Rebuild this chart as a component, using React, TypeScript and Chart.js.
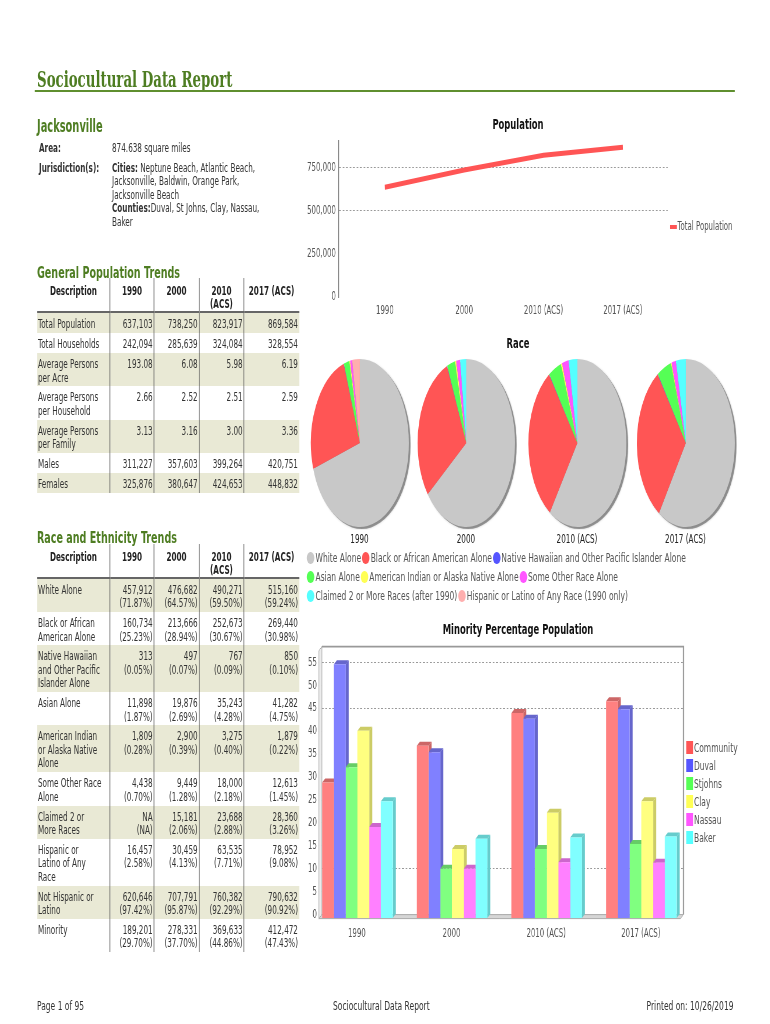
import React, { useEffect, useRef } from 'react';
import { Chart, registerables } from 'chart.js';

Chart.register(...registerables);
Chart.defaults.font.family = "'DejaVu Sans', sans-serif";

// horizontal squeeze of the whole page (the reference is horizontally compressed)
const SX = 0.58;
const X = (v: number) => v / SX;

// ---------------- data ----------------
const years = ['1990', '2000', '2010 (ACS)', '2017 (ACS)'];
const totalPopulation = [637103, 738250, 823917, 869584];
const populationTicks = [0, 250000, 500000, 750000];

const raceLegendLabels = [
  'White Alone',
  'Black or African American Alone',
  'Native Hawaiian and Other Pacific Islander Alone',
  'Asian Alone',
  'American Indian or Alaska Native Alone',
  'Some Other Race Alone',
  'Claimed 2 or More Races (after 1990)',
  'Hispanic or Latino of Any Race (1990 only)',
];
const raceColors = ['#c8c8c8', '#ff5555', '#5555ff', '#55ff55', '#ffff55', '#ff55ff', '#55ffff', '#ffafaf'];
const race1990 = [71.87, 25.23, 0.05, 1.87, 0.28, 0.7, 0, 2.58];
const race2000 = [64.57, 28.94, 0.07, 2.69, 0.39, 1.28, 2.06, 0];
const race2010 = [59.5, 30.67, 0.09, 4.28, 0.4, 2.18, 2.88, 0];
const race2017 = [59.24, 30.98, 0.1, 4.75, 0.22, 1.45, 3.26, 0];
const raceByYear = [race1990, race2000, race2010, race2017];

const minorityAreas = ['Community', 'Duval', 'Stjohns', 'Clay', 'Nassau', 'Baker'];
const community = [29.7, 37.7, 44.86, 47.43];
const duval = [55.5, 36.3, 43.6, 45.7];
const stjohns = [33.0, 10.9, 15.2, 16.3];
const clay = [41.0, 15.2, 23.1, 25.6];
const nassau = [20.0, 10.9, 12.3, 12.2];
const baker = [25.6, 17.4, 17.7, 17.9];
const minoritySeries = [community, duval, stjohns, clay, nassau, baker];
const areaColors = ['#ff5555', '#5555ff', '#55ff55', '#ffff55', '#ff55ff', '#55ffff'];
const areaFront = ['#ff8080', '#8080ff', '#80ff80', '#ffff80', '#ff80ff', '#80ffff'];
const areaDark = ['#cc6666', '#6666cc', '#66cc66', '#cccc66', '#cc66cc', '#66cccc'];

const tableHeader = ['Description', '1990', '2000', '2010\n(ACS)', '2017 (ACS)'];

const genDesc = ['Total Population', 'Total Households', 'Average Persons\nper Acre', 'Average Persons\nper Household', 'Average Persons\nper Family', 'Males', 'Females'];
const gen1990 = ['637,103', '242,094', '193.08', '2.66', '3.13', '311,227', '325,876'];
const gen2000 = ['738,250', '285,639', '6.08', '2.52', '3.16', '357,603', '380,647'];
const gen2010 = ['823,917', '324,084', '5.98', '2.51', '3.00', '399,264', '424,653'];
const gen2017 = ['869,584', '328,554', '6.19', '2.59', '3.36', '420,751', '448,832'];

const raceDesc = ['White Alone', 'Black or African\nAmerican Alone', 'Native Hawaiian\nand Other Pacific\nIslander Alone', 'Asian Alone', 'American Indian\nor Alaska Native\nAlone', 'Some Other Race\nAlone', 'Claimed 2 or\nMore Races', 'Hispanic or\nLatino of Any\nRace', 'Not Hispanic or\nLatino', 'Minority'];
const cnt1990 = ['457,912', '160,734', '313', '11,898', '1,809', '4,438', 'NA', '16,457', '620,646', '189,201'];
const pct1990 = ['71.87%', '25.23%', '0.05%', '1.87%', '0.28%', '0.70%', 'NA', '2.58%', '97.42%', '29.70%'];
const cnt2000 = ['476,682', '213,666', '497', '19,876', '2,900', '9,449', '15,181', '30,459', '707,791', '278,331'];
const pct2000 = ['64.57%', '28.94%', '0.07%', '2.69%', '0.39%', '1.28%', '2.06%', '4.13%', '95.87%', '37.70%'];
const cnt2010 = ['490,271', '252,673', '767', '35,243', '3,275', '18,000', '23,688', '63,535', '760,382', '369,633'];
const pct2010 = ['59.50%', '30.67%', '0.09%', '4.28%', '0.40%', '2.18%', '2.88%', '7.71%', '92.29%', '44.86%'];
const cnt2017 = ['515,160', '269,440', '850', '41,282', '1,879', '12,613', '28,360', '78,952', '790,632', '412,472'];
const pct2017 = ['59.24%', '30.98%', '0.10%', '4.75%', '0.22%', '1.45%', '3.26%', '9.08%', '90.92%', '47.43%'];

// ---------------- helpers ----------------
const GREEN = '#4e7d22';

function ChartBox({ make, style }: { make: () => any; style: any }) {
  const ref = useRef<HTMLCanvasElement>(null);
  useEffect(() => {
    const c = new Chart(ref.current as HTMLCanvasElement, make());
    return () => c.destroy();
  }, []);
  return (
    <div style={{ position: 'absolute', ...style }}>
      <canvas ref={ref} />
    </div>
  );
}

const lineConfig = () => ({
  type: 'line',
  data: {
    datasets: [
      {
        label: 'Total Population',
        data: years.map((_, i) => ({ x: i, y: totalPopulation[i] })),
        borderColor: '#ff5555',
        borderWidth: 5,
        pointRadius: 0,
        tension: 0,
      },
    ],
  },
  options: {
    animation: false,
    responsive: true,
    maintainAspectRatio: false,
    layout: { padding: { top: 10, right: X(12), bottom: 0, left: 0 } },
    plugins: { legend: { display: false }, tooltip: { enabled: false } },
    scales: {
      x: {
        type: 'linear',
        min: -0.58,
        max: 3.567,
        offset: false,
        grid: { display: false, drawTicks: false },
        border: { display: false },
        afterBuildTicks: (s: any) => {
          s.ticks = years.map((_, i) => ({ value: i }));
        },
        ticks: { callback: (v: any) => years[v], color: '#555', font: { size: 12 }, padding: 7, maxRotation: 0, autoSkip: false },
        afterFit: (s: any) => {
          s.height = 21;
        },
      },
      y: {
        min: 0,
        max: 910000,
        afterBuildTicks: (s: any) => {
          s.ticks = populationTicks.map((v) => ({ value: v }));
        },
        ticks: {
          callback: (v: any) => Number(v).toLocaleString('en-US'),
          color: '#555',
          font: { size: 12 },
          padding: X(3),
        },
        grid: {
          drawTicks: false,
          color: (c: any) => (c.tick && (c.tick.value === 500000 || c.tick.value === 750000) ? '#999' : 'rgba(0,0,0,0)'),
        },
        border: { display: true, color: '#888', width: X(1), dash: [3, 3] },
        afterFit: (s: any) => {
          s.width = X(39);
        },
      },
    },
  },
});

const pieShadow = {
  id: 'pieShadow',
  beforeDatasetsDraw(chart: any) {
    const el = chart.getDatasetMeta(0).data[0];
    if (!el) return;
    const { ctx } = chart;
    ctx.save();
    ctx.fillStyle = 'rgba(80,80,80,0.55)';
    ctx.shadowColor = 'rgba(0,0,0,0.35)';
    ctx.shadowBlur = 3;
    ctx.beginPath();
    ctx.arc(el.x + 3, el.y + 2, el.outerRadius, 0, Math.PI * 2);
    ctx.fill();
    ctx.restore();
  },
};

const pieConfig = (values: number[]) => () => ({
  type: 'pie',
  data: {
    labels: raceLegendLabels,
    datasets: [{ data: values, backgroundColor: raceColors, borderWidth: 0 }],
  },
  options: {
    animation: false,
    responsive: true,
    maintainAspectRatio: false,
    layout: { padding: 3 },
    plugins: { legend: { display: false }, tooltip: { enabled: false } },
  },
  plugins: [pieShadow],
});

const DX = X(3);
const DY = 4;
const bar3d = {
  id: 'bar3d',
  beforeDatasetsDraw(chart: any) {
    const { ctx, chartArea: a } = chart;
    ctx.save();
    ctx.lineWidth = 1;
    ctx.strokeStyle = '#aaa';
    ctx.fillStyle = '#ececec';
    ctx.beginPath();
    ctx.moveTo(a.left - DX, a.top + DY);
    ctx.lineTo(a.left, a.top);
    ctx.lineTo(a.left, a.bottom);
    ctx.lineTo(a.left - DX, a.bottom + DY);
    ctx.closePath();
    ctx.fill();
    ctx.stroke();
    ctx.fillStyle = '#d6d6d6';
    ctx.beginPath();
    ctx.moveTo(a.left - DX, a.bottom + DY);
    ctx.lineTo(a.left, a.bottom);
    ctx.lineTo(a.right, a.bottom);
    ctx.lineTo(a.right - DX, a.bottom + DY);
    ctx.closePath();
    ctx.fill();
    ctx.stroke();
    ctx.strokeStyle = '#999';
    ctx.lineWidth = X(1);
    ctx.beginPath();
    ctx.moveTo(a.left, a.top);
    ctx.lineTo(a.right, a.top);
    ctx.lineTo(a.right, a.bottom);
    ctx.stroke();
    ctx.restore();

    ctx.save();
    ctx.translate(-DX, DY);
    chart.data.datasets.forEach((_: any, k: number) => {
      const meta = chart.getDatasetMeta(k);
      meta.data.forEach((el: any) => {
        const { x, y, base, width } = el.getProps(['x', 'y', 'base', 'width'], true);
        const x0 = x - width / 2;
        const x1 = x + width / 2;
        ctx.fillStyle = areaDark[k];
        ctx.beginPath();
        ctx.moveTo(x1, y);
        ctx.lineTo(x1 + DX, y - DY);
        ctx.lineTo(x1 + DX, base - DY);
        ctx.lineTo(x1, base);
        ctx.closePath();
        ctx.fill();
        ctx.beginPath();
        ctx.moveTo(x0, y);
        ctx.lineTo(x0 + DX, y - DY);
        ctx.lineTo(x1 + DX, y - DY);
        ctx.lineTo(x1, y);
        ctx.closePath();
        ctx.fill();
      });
    });
  },
  afterDatasetsDraw(chart: any) {
    chart.ctx.restore();
  },
};

const barConfig = () => ({
  type: 'bar',
  data: {
    datasets: minorityAreas.map((name, k) => ({
      label: name,
      data: years.map((_, i) => ({ x: i, y: minoritySeries[k][i] })),
      backgroundColor: areaFront[k],
      borderWidth: 0,
      categoryPercentage: 0.745,
      barPercentage: 1.0,
      clip: false,
    })),
  },
  options: {
    animation: false,
    responsive: true,
    maintainAspectRatio: false,
    layout: { padding: { top: 8, right: X(7), bottom: 0, left: 0 } },
    plugins: { legend: { display: false }, tooltip: { enabled: false } },
    scales: {
      x: {
        type: 'linear',
        min: -0.407,
        max: 3.413,
        offset: false,
        grid: { display: false, drawTicks: false },
        border: { display: false },
        afterBuildTicks: (s: any) => {
          s.ticks = years.map((_, i) => ({ value: i }));
        },
        ticks: { callback: (v: any) => years[v], color: '#555', font: { size: 12 }, padding: 12, labelOffset: -X(3.5), maxRotation: 0, autoSkip: false },
        afterFit: (s: any) => {
          s.height = 35.4;
        },
      },
      y: {
        min: 0,
        max: 58.46,
        ticks: { stepSize: 5, includeBounds: false, color: '#555', font: { size: 12 }, padding: X(2) },
        grid: {
          drawTicks: true,
          tickLength: X(3),
          tickColor: '#999',
          color: (c: any) => (c.tick && [10, 45, 55].includes(c.tick.value) ? '#999' : 'rgba(0,0,0,0)'),
        },
        border: { display: false, dash: [3, 3] },
        afterFit: (s: any) => {
          s.width = X(22);
        },
      },
    },
  },
  plugins: [bar3d],
});

// ---------------- tables ----------------
const TCOLS = [73, 44, 45, 45, 55];
const VLINE = `${X(1)}px solid #444`;

function DataTable({ top, desc, cols }: { top: number; desc: string[]; cols: string[][] }) {
  return (
    <table
      style={{
        position: 'absolute',
        left: X(37),
        top,
        width: X(262),
        borderCollapse: 'collapse',
        tableLayout: 'fixed',
        fontSize: 12.5,
        lineHeight: '13.4px',
        color: '#333',
      }}
    >
      <colgroup>
        {TCOLS.map((w, i) => (
          <col key={i} style={{ width: X(w) }} />
        ))}
      </colgroup>
      <thead>
        <tr>
          {tableHeader.map((h, i) => (
            <th
              key={i}
              style={{
                padding: '6px 0 0.5px',
                verticalAlign: 'top',
                textAlign: 'center',
                whiteSpace: 'pre',
                fontWeight: 'bold',
                borderLeft: i > 0 ? VLINE : 'none',
                borderBottom: '2px solid #666',
                color: '#222',
              }}
            >
              {h}
            </th>
          ))}
        </tr>
      </thead>
      <tbody>
        {desc.map((d, r) => (
          <tr key={r} style={{ background: r % 2 === 0 ? '#e9e9d5' : '#ffffff' }}>
            <td style={{ padding: `4px ${X(1)}px 2.5px`, verticalAlign: 'top', whiteSpace: 'pre', textAlign: 'left' }}>{d}</td>
            {cols.map((c, j) => (
              <td
                key={j}
                style={{ padding: `4px ${X(1)}px 2.5px`, verticalAlign: 'top', whiteSpace: 'pre', textAlign: 'right', borderLeft: VLINE }}
              >
                {c[r]}
              </td>
            ))}
          </tr>
        ))}
      </tbody>
    </table>
  );
}

const join2 = (a: string[], b: string[]) => a.map((v, i) => `${v}\n(${b[i]})`);

const pieCenters = [359.5, 466, 577, 685.5];
const legendRows = [
  [0, 1, 2],
  [3, 4, 5],
  [6, 7],
];

export default function App() {
  useEffect(() => {
    document.body.style.overflow = 'hidden';
  }, []);

  const abs = (x: number, y: number, extra: any = {}) => ({ position: 'absolute' as const, left: X(x), top: y, ...extra });

  return (
    <div style={{ position: 'absolute', left: 0, top: 0, width: 770, height: 1024, overflow: 'hidden', background: '#fff' }}>
      <div
        style={{
          position: 'absolute',
          left: 0,
          top: 0,
          width: X(770),
          height: 1024,
          transform: `scaleX(${SX})`,
          transformOrigin: '0 0',
          fontFamily: "'DejaVu Sans', sans-serif",
          color: '#333',
          fontSize: 12.5,
          lineHeight: '13.4px',
        }}
      >
        {/* page title */}
        <div style={abs(37, 65, { fontFamily: "'DejaVu Serif', serif", fontWeight: 'bold', fontSize: 23, lineHeight: '28px', color: GREEN, whiteSpace: 'nowrap' })}>
          Sociocultural Data Report
        </div>
        <div style={abs(35, 89.5, { width: X(700), height: 2, background: '#5f8f2f' })} />

        {/* Jacksonville */}
        <div style={abs(37, 115.5, { fontWeight: 'bold', fontSize: 17, lineHeight: '20px', color: GREEN })}>Jacksonville</div>
        <div style={abs(39, 141, { fontWeight: 'bold', whiteSpace: 'nowrap' })}>Area:</div>
        <div style={abs(112, 141, { whiteSpace: 'nowrap' })}>874.638 square miles</div>
        <div style={abs(39, 161, { fontWeight: 'bold', whiteSpace: 'nowrap' })}>Jurisdiction(s):</div>
        <div style={abs(112, 161, { whiteSpace: 'nowrap' })}>
          <b>Cities:</b> Neptune Beach, Atlantic Beach,
          <br />
          Jacksonville, Baldwin, Orange Park,
          <br />
          Jacksonville Beach
          <br />
          <b>Counties:</b>Duval, St Johns, Clay, Nassau,
          <br />
          Baker
        </div>

        {/* General population trends */}
        <div style={abs(37, 263, { fontWeight: 'bold', fontSize: 16.5, lineHeight: '20px', color: GREEN, whiteSpace: 'nowrap' })}>
          General Population Trends
        </div>
        <DataTable top={278} desc={genDesc} cols={[gen1990, gen2000, gen2010, gen2017]} />

        {/* Race and ethnicity trends */}
        <div style={abs(37, 527.5, { fontWeight: 'bold', fontSize: 16.5, lineHeight: '20px', color: GREEN, whiteSpace: 'nowrap' })}>
          Race and Ethnicity Trends
        </div>
        <DataTable
          top={543.5}
          desc={raceDesc}
          cols={[join2(cnt1990, pct1990), join2(cnt2000, pct2000), join2(cnt2010, pct2010), join2(cnt2017, pct2017)]}
        />

        {/* Population line chart */}
        <div style={abs(300, 115, { width: X(436), textAlign: 'center', fontWeight: 'bold', fontSize: 14.5, lineHeight: '18px', color: '#111' })}>
          Population
        </div>
        <ChartBox make={lineConfig} style={{ left: X(300), top: 128, width: X(380), height: 190 }} />
        <div style={abs(670, 220, { display: 'flex', alignItems: 'center', height: 14, whiteSpace: 'nowrap', fontSize: 12, color: '#555' })}>
          <span style={{ display: 'inline-block', width: X(7), height: 4, background: '#ff5555', marginRight: X(0.5) }} />
          Total Population
        </div>

        {/* Race pies */}
        <div style={abs(300, 333.5, { width: X(436), textAlign: 'center', fontWeight: 'bold', fontSize: 14.5, lineHeight: '18px', color: '#111' })}>
          Race
        </div>
        {raceByYear.map((vals, i) => (
          <ChartBox key={i} make={pieConfig(vals)} style={{ left: X(pieCenters[i] - 51), top: 356, width: X(102), height: 174 }} />
        ))}
        {years.map((y, i) => (
          <div key={i} style={abs(pieCenters[i] - 40, 532, { width: X(80), textAlign: 'center', lineHeight: '14px', color: '#222', whiteSpace: 'nowrap' })}>
            {y}
          </div>
        ))}
        {legendRows.map((row, r) => (
          <div key={r} style={abs(307, 548.5 + r * 19, { display: 'flex', alignItems: 'center', height: 19, whiteSpace: 'nowrap', color: '#555', fontSize: 13 })}>
            {row.map((k) => (
              <span key={k} style={{ display: 'inline-flex', alignItems: 'center', marginRight: X(1) }}>
                <span style={{ display: 'inline-block', width: 13, height: 12.5, borderRadius: '50%', background: raceColors[k], marginRight: X(1) }} />
                {raceLegendLabels[k]}
              </span>
            ))}
          </div>
        ))}

        {/* Minority bar chart */}
        <div style={abs(300, 619.5, { width: X(436), textAlign: 'center', fontWeight: 'bold', fontSize: 14.5, lineHeight: '18px', color: '#111', whiteSpace: 'nowrap' })}>
          Minority Percentage Population
        </div>
        <ChartBox make={barConfig} style={{ left: X(300), top: 636, width: X(390), height: 314 }} />
        {minorityAreas.map((n, k) => (
          <div key={k} style={abs(686, 740.3 + k * 18, { display: 'flex', alignItems: 'center', height: 14, whiteSpace: 'nowrap', fontSize: 13, color: '#555' })}>
            <span style={{ display: 'inline-block', width: X(7), height: 13, background: areaColors[k], marginRight: X(1) }} />
            {n}
          </div>
        ))}

        {/* footer */}
        <div style={abs(37, 998.5, { fontSize: 13, lineHeight: '14px', whiteSpace: 'nowrap' })}>Page 1 of 95</div>
        <div style={abs(333, 998.5, { fontSize: 13, lineHeight: '14px', whiteSpace: 'nowrap' })}>Sociocultural Data Report</div>
        <div style={abs(500, 998.5, { width: X(233.5), textAlign: 'right', fontSize: 13, lineHeight: '14px', whiteSpace: 'nowrap' })}>
          Printed on: 10/26/2019
        </div>
      </div>
    </div>
  );
}
